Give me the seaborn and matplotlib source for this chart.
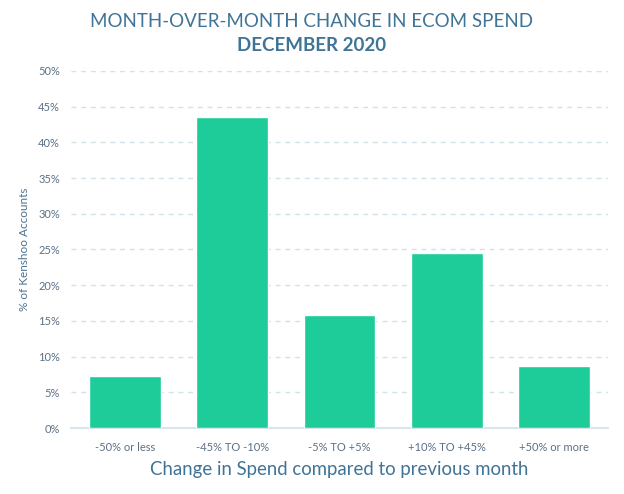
import matplotlib
matplotlib.use("Agg")
import matplotlib.pyplot as plt
import seaborn as sns
import pandas as pd
from matplotlib.ticker import FuncFormatter, MultipleLocator

categories = ["-50% or less", "-45% TO -10%", "-5% TO +5%", "+10% TO +45%", "+50% or more"]
values = [7.3, 43.6, 15.8, 24.5, 8.7]

df = pd.DataFrame({"cat": categories, "val": values})

sns.set_theme(style="white")
plt.rcParams['font.family'] = ['Lato', 'DejaVu Sans']

BAR = "#1DCC98"
TXT = "#3F7497"
TICK = "#5B7085"

fig = plt.figure(figsize=(6.24, 4.94), dpi=100)
ax = fig.add_axes([0.1138, 0.1336, 0.8605, 0.7227])
sns.barplot(data=df, x="cat", y="val", color=BAR, width=0.67, saturation=1, ax=ax, zorder=3)

ax.set_ylim(0, 50)
ax.set_xlim(-0.5, 4.5)
ax.yaxis.set_major_locator(MultipleLocator(5))
ax.yaxis.set_major_formatter(FuncFormatter(lambda v, p: f"{int(v)}%"))
ax.grid(axis="y", color="#CFE3EA", linestyle=(0, (3.5, 3.5)), linewidth=1, zorder=0)
ax.grid(axis="x", visible=False)
for s in ["top", "right", "left"]:
    ax.spines[s].set_visible(False)
ax.spines["bottom"].set_color("#CFE0EA")
ax.spines["bottom"].set_linewidth(1.2)
ax.tick_params(axis="both", length=0, labelsize=8, labelcolor=TICK)
ax.tick_params(axis="x", pad=10)
ax.tick_params(axis="y", pad=8)
ax.set_ylabel("% of Kenshoo Accounts", color="#4E7390", fontsize=8.5, labelpad=6)
ax.set_xlabel("Change in Spend compared to previous month", color=TXT, fontsize=13.4, labelpad=6)

fig.text(0.5, 0.956, "MONTH-OVER-MONTH CHANGE IN ECOM SPEND", ha="center", va="center",
         fontsize=13.5, color=TXT, fontweight="normal")
fig.text(0.5, 0.908, "DECEMBER 2020", ha="center", va="center",
         fontsize=13.5, color=TXT, fontweight="bold")

fig.savefig("out.png", dpi=100)
